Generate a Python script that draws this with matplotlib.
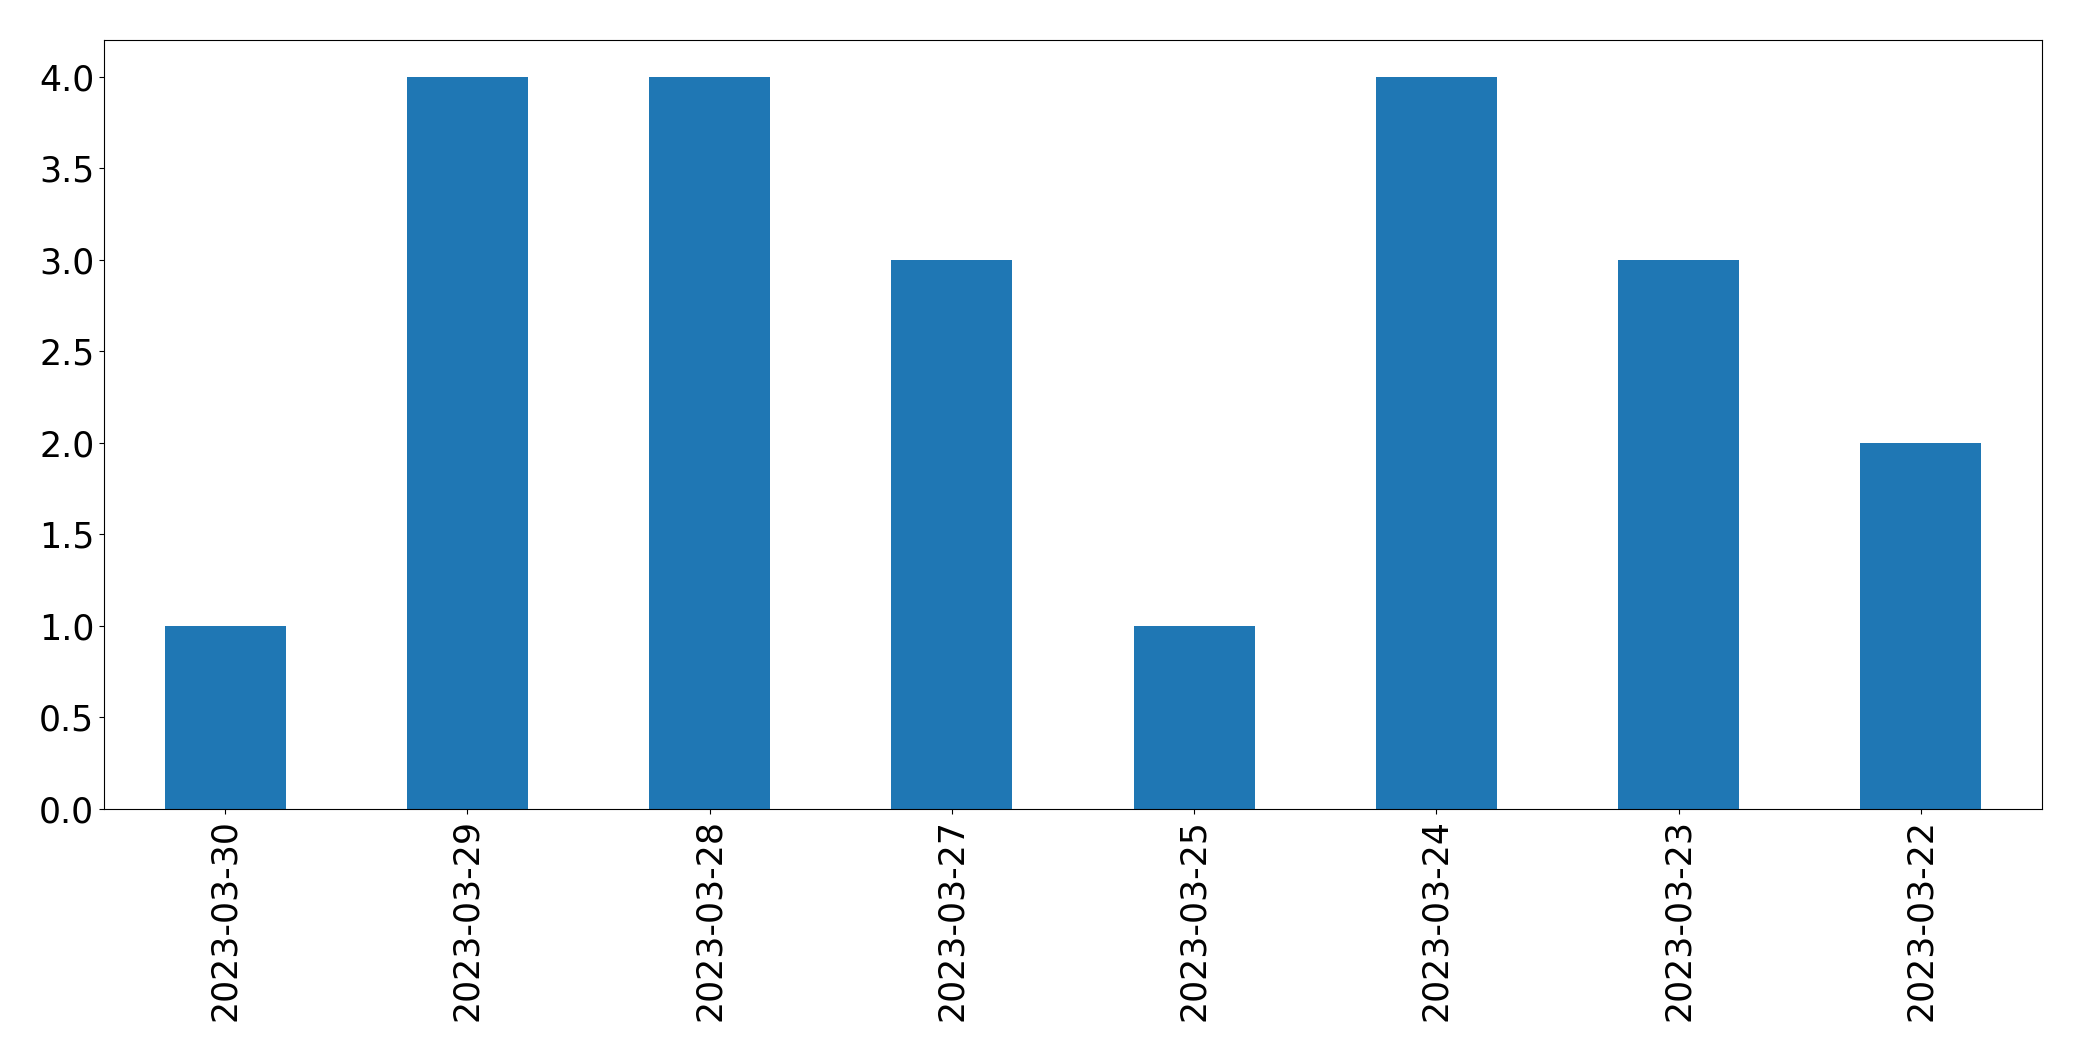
import matplotlib
matplotlib.use("Agg")
import matplotlib.pyplot as plt
import numpy as np

# dates and counts
dates = ['2023-03-30', '2023-03-29', '2023-03-28', '2023-03-27',
         '2023-03-25', '2023-03-24', '2023-03-23', '2023-03-22']
counts = [1, 4, 4, 3, 1, 4, 3, 2]

fig = plt.figure(figsize=(20.82, 10.61), dpi=100)
ax = fig.add_axes([104 / 2082, 1 - 809 / 1061, (2042 - 104) / 2082, (809 - 40) / 1061])

x = np.arange(len(dates))
ax.bar(x, counts, width=0.5, color='#1f77b4')
ax.set_xlim(-0.5, len(dates) - 0.5)
ax.set_ylim(0, 4.2)
ax.set_yticks(np.arange(0, 4.01, 0.5))
ax.set_xticks(x)
ax.set_xticklabels(dates, rotation=90)
ax.tick_params(labelsize=25)

fig.savefig('out.png', dpi=100)
